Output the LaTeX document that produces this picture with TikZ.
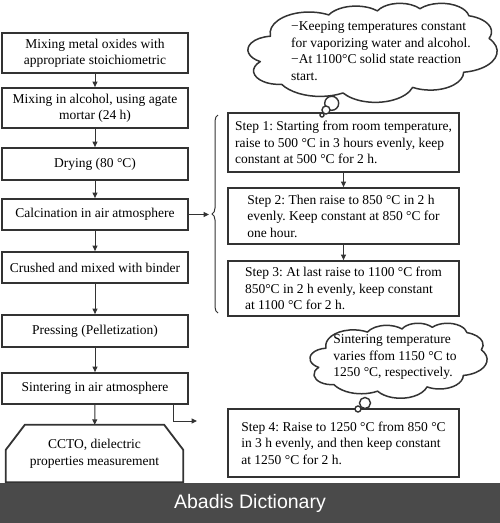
\documentclass[tikz,border=0pt]{standalone}
\usepackage{fontspec}
\setmainfont{Liberation Serif}
\newfontfamily\bannerfont{Liberation Sans}
\usetikzlibrary{decorations.pathreplacing,arrows.meta}
\definecolor{linec}{gray}{0.2}
\definecolor{bannerc}{RGB}{74,74,74}
% Office-style cloud in a 432 x 432 box, placed at (x0,y0) with size W x H
\newcommand\officecloud[4]{%
  \begin{scope}[shift={(#1,#2)},xscale=#3/432,yscale=#4/432]
  \draw[cloudline] (39,143.7)
    arc[x radius=67.53, y radius=91.90, start angle=172.25, delta angle=128.14]
    arc[x radius=53.33, y radius=72.67, start angle=-152.02, delta angle=106.57]
    arc[x radius=43.65, y radius=59.45, start angle=-153.50, delta angle=116.18]
    arc[x radius=48.57, y radius=65.95, start angle=-139.81, delta angle=129.63]
    arc[x radius=53.33, y radius=72.73, start angle=-74.78, delta angle=98.01]
    arc[x radius=67.75, y radius=92.20, start angle=-37.54, delta angle=119.39]
    arc[x radius=57.85, y radius=78.67, start angle=0.46, delta angle=121.55]
    arc[x radius=67.52, y radius=92.15, start angle=16.87, delta angle=129.33]
    arc[x radius=77.20, y radius=105.43, start angle=59.08, delta angle=91.03]
    arc[x radius=43.60, y radius=59.18, start angle=83.28, delta angle=139.70]
    arc[x radius=43.45, y radius=59.45, start angle=120.29, delta angle=143.85]
    -- cycle;
  \end{scope}}
\begin{document}
\frenchspacing
\begin{tikzpicture}[x=1pt,y=-1pt,
  txt/.style={font=\fontsize{13.5}{16.5}\selectfont},
  lbox/.style={txt,draw=linec,line width=1.8pt,fill=white,align=center,inner sep=0pt,minimum width=186pt},
  rbox/.style={txt,draw=linec,line width=1.8pt,fill=white,align=left,inner sep=0pt,minimum width=231pt},
  conn/.style={draw=linec,line width=1pt,-{Triangle[length=5.5pt,width=5pt]}},
  cloudline/.style={draw=linec,line width=1.5pt,fill=white,line join=round},
  bub/.style={circle,draw=linec,line width=1.4pt,fill=white,inner sep=0pt}]
\useasboundingbox (0,0) rectangle (500,523);
\fill[white] (0,0) rectangle (500,523);
% left column
\node[lbox,minimum height=40pt] (b1) at (95,53) {Mixing metal oxides with\\appropriate stoichiometric};
\node[lbox,minimum height=40pt] (b2) at (95,108) {Mixing in alcohol, using agate\\mortar (24 h)};
\node[lbox,minimum height=32pt] (b3) at (95,164) {Drying (80 °C)};
\node[lbox,minimum height=31pt] (b4) at (95,214.5) {Calcination in air atmosphere};
\node[lbox,minimum height=31pt] (b5) at (95,267.5) {Crushed and mixed with binder};
\node[lbox,minimum height=32pt] (b6) at (95,331) {Pressing (Pelletization)};
\node[lbox,minimum height=31pt] (b7) at (95,388.5) {Sintering in air atmosphere};
\node[minimum width=177pt,minimum height=57pt,inner sep=0pt] (b8) at (94.5,453.5) {};
\draw[linec,line width=1.8pt,fill=white] (b8.south west) -- ([yshift=-25pt]b8.north west) -- ([xshift=19pt]b8.north west) -- ([xshift=-19pt]b8.north east) -- ([yshift=-25pt]b8.north east) -- (b8.south east) -- cycle;
\node[txt,align=center,inner sep=0pt] (b8t) at (b8) {CCTO, dielectric\\properties measurement};
\foreach \a/\b in {b1/b2,b2/b3,b3/b4,b4/b5,b5/b6,b6/b7,b7/b8}
  \draw[conn] (\a) -- (\b);
% right column
\node[rbox,minimum height=59pt] (s1) at (343.5,142.5) {Step 1: Starting from room temperature,\\raise to 500 °C in 3 hours evenly, keep\\constant at 500 °C for 2 h.};
\node[rbox,minimum height=56pt] (s2) at (343.5,216) {Step 2: Then raise to 850 °C in 2 h\\evenly. Keep constant at 850 °C for\\one hour.};
\node[rbox,minimum height=55pt] (s3) at (343.5,288.5) {Step 3: At last raise to 1100 °C from\\850°C in 2 h evenly, keep constant\\at 1100 °C for 2 h.};
\node[rbox,minimum height=68pt] (s4) at (343.5,443) {Step 4: Raise to 1250 °C from 850 °C\\in 3 h evenly, and then keep constant\\at 1250 °C for 2 h.};
\draw[conn] (s1) -- (s2);
\draw[conn] (s2) -- (s3);
% brace
\coordinate (brb) at (218,313);
\coordinate (brt) at (218,115);
\draw[linec,line width=1pt,decorate,decoration={brace,amplitude=6pt}] (brb) -- (brt);
\coordinate (brtip) at (209,214.5);
\draw[conn] (b4.east |- brtip) -- (brtip);
% sintering side arrow
\coordinate (sk) at (173,421);
\coordinate (se) at (197,421);
\draw[conn] (b7.south -| sk) -- (sk) -- (se);
% clouds
\officecloud{248}{3}{249}{99}
\node[txt,align=left,inner sep=0pt] (c1t) at (381,51) {−Keeping temperatures constant\\for vaporizing water and alcohol.\\−At 1100°C solid state reaction\\start.};
\node[bub,minimum size=14pt] (c1a) at (331.7,103.3) {};
\node[bub,minimum size=8pt] (c1b) at (326,110) {};
\node[bub,minimum size=4pt] (c1c) at (322,115) {};
\officecloud{310}{323}{177}{75}
\node[txt,align=left,inner sep=0pt] (c2t) at (395,357) {Sintering temperature\\varies ffom 1150 °C to\\1250 °C, respectively.};
\node[bub,minimum size=11pt] (c2a) at (365,403) {};
\node[bub,minimum size=6pt] (c2b) at (358,409) {};
% banner
\fill[bannerc] (0,483) rectangle (500,523);
\node[font=\bannerfont\fontsize{19.5}{22}\selectfont,text=white,inner sep=0pt] (ban) at (250,503) {Abadis Dictionary};
\end{tikzpicture}
\end{document}
